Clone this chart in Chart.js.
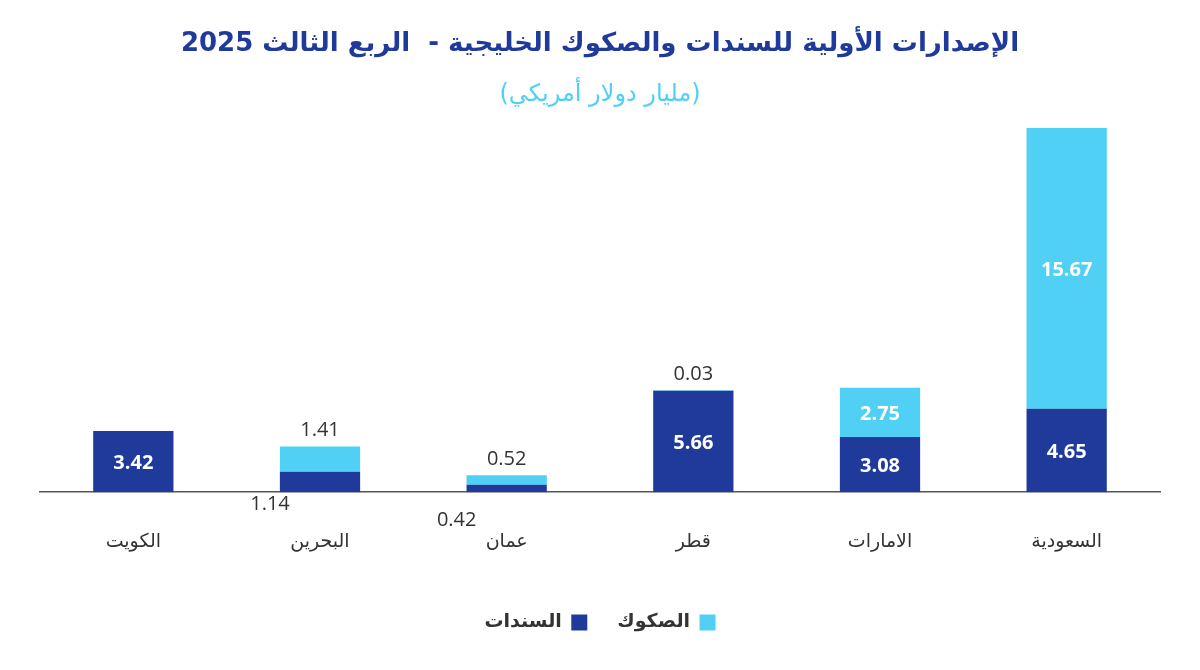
<!DOCTYPE html>
<html><head><meta charset="utf-8">
<script src="https://cdn.jsdelivr.net/npm/chart.js@4/dist/chart.umd.min.js"></script>
<style>html,body{margin:0;background:#fff}#w{width:1200px;height:670px}</style>
</head><body><div id="w"><canvas id="c"></canvas></div>
<script>
const categories = ["الكويت","البحرين","عمان","قطر","الامارات","السعودية"];
const bonds = [3.42,1.14,0.42,5.66,3.08,4.65];
const sukuk = [0,1.41,0.52,0.03,2.75,15.67];
const seriesNames = ["السندات","الصكوك"];
const titleText = "الإصدارات الأولية للسندات والصكوك الخليجية -  الربع الثالث 2025";
const subtitleText = "(مليار دولار أمريكي)";
const DARK = "#1f3a9a", LIGHT = "#4fd0f4";

const labelPlugin = {
  id:'lbls',
  afterDatasetsDraw(chart){
    const ctx = chart.ctx;
    ctx.save();
    ctx.textAlign='center'; ctx.textBaseline='middle';
    chart.data.datasets.forEach((ds,di)=>{
      const meta = chart.getDatasetMeta(di);
      meta.data.forEach((bar,i)=>{
        const v = ds.data[i]; if(!v) return;
        const h = Math.abs(bar.base - bar.y);
        ctx.font = (h>30?'bold ':'') + '20px "Open Sans", Arial';
        if(h>30){ ctx.fillStyle='#fff'; ctx.fillText(v.toFixed(2), bar.x, (bar.y+bar.base)/2+2); }
        else if(di===1){ ctx.fillStyle='#333'; ctx.fillText(v.toFixed(2), bar.x, bar.y-16); }
        else { ctx.fillStyle='#333'; ctx.fillText(v.toFixed(2), bar.x-50, bar.base+12+(i===2?16:0)); }
      });
    });
    ctx.font='bold 26px "DejaVu Sans", Arial'; ctx.fillStyle=DARK;
    ctx.fillText(titleText, 600, 44);
    ctx.font='24px "DejaVu Sans", Arial'; ctx.fillStyle=LIGHT;
    ctx.fillText(subtitleText, 600, 95);
    ctx.restore();
  }
};

new Chart(document.getElementById('c'),{
  type:'bar',
  data:{labels:categories,datasets:[
    {label:seriesNames[0],data:bonds,backgroundColor:DARK},
    {label:seriesNames[1],data:sukuk,backgroundColor:LIGHT}
  ]},
  options:{
    responsive:true,maintainAspectRatio:false,animation:false,
    layout:{padding:{top:128,left:40,right:40,bottom:28}},
    datasets:{bar:{barPercentage:0.43,categoryPercentage:1}},
    scales:{
      x:{stacked:true,grid:{display:false},border:{display:true,color:'#555',width:1.5},
         ticks:{color:'#333',font:{size:19,family:'"DejaVu Sans", Arial'},padding:30}},
      y:{stacked:true,display:false,min:0,max:20.32}
    },
    plugins:{
      legend:{position:'bottom',rtl:true,reverse:true,
        labels:{boxWidth:16,boxHeight:16,color:'#333',padding:30,
          font:{size:19,weight:'bold',family:'"DejaVu Sans", Arial'}}},
      tooltip:{enabled:false}
    }
  },
  plugins:[labelPlugin]
});
</script></body></html>
